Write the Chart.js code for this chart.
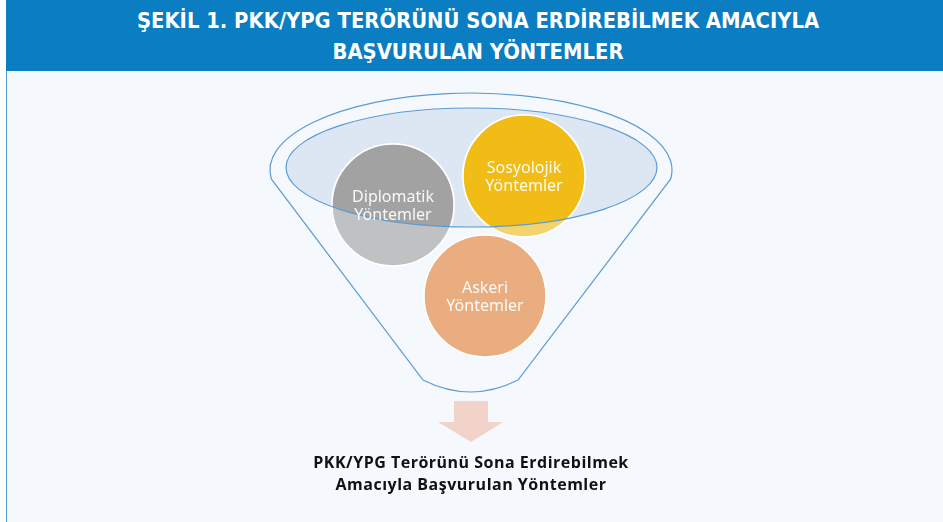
<!DOCTYPE html>
<html lang="tr">
<head>
<meta charset="utf-8">
<script src="https://cdn.jsdelivr.net/npm/chart.js@4.4.1/dist/chart.umd.min.js"></script>
<style>
  html, body { margin: 0; padding: 0; background: #fff; }
  #wrap { position: relative; width: 943px; height: 522px; overflow: hidden; }
  #panel { position: absolute; left: 6px; top: 0; width: 937px; height: 522px;
           background: #f5f8fc; border-left: 1px solid #5b9bd5; box-sizing: border-box; }
  #header { position: absolute; left: 6px; top: 0; width: 937px; height: 71px; background: #0b7dc2; }
  .title { position: absolute; left: 0; width: 956px; text-align: center; color: #fff;
           font: bold 21.8px "DejaVu Sans Condensed", "DejaVu Sans", sans-serif; white-space: nowrap; }
  .caption { position: absolute; left: 0; width: 942px; text-align: center; color: #111;
             font: bold 16px "Open Sans", Lato, sans-serif; letter-spacing: 0.5px; white-space: nowrap; }
  canvas { position: absolute; left: 0; top: 0; }
</style>
</head>
<body>
<div id="wrap">
  <div id="panel"></div>
  <div id="header"></div>
  <div class="title" style="top:8px">ŞEKİL 1. PKK/YPG TERÖRÜNÜ SONA ERDİREBİLMEK AMACIYLA</div>
  <div class="title" style="top:39px">BAŞVURULAN YÖNTEMLER</div>
  <canvas id="funnel" width="943" height="522"></canvas>
  <div class="caption" style="top:451px">PKK/YPG Terörünü Sona Erdirebilmek</div>
  <div class="caption" style="top:473px">Amacıyla Başvurulan Yöntemler</div>
</div>
<script>
const methods = [['Diplomatik', 'Yöntemler'], ['Sosyolojik', 'Yöntemler'], ['Askeri', 'Yöntemler']];
const methodX = [393, 524, 485];
const methodY = [205, 176, 296];
const methodR = [61, 61, 61];
const darkColors = ['#a2a2a2', '#f0bc15', '#eaad7f'];
const lightColors = ['#bfc1c3', '#f4d36f', '#eaad7f'];

const points = methods.map((m, i) => ({ x: methodX[i], y: methodY[i], r: methodR[i] }));

// funnel mouth (outer) and the inner ellipse, in the same units as the scales
const mouth = { x: 471, y: 170, rx: 201, ry: 77 };
const inner = { x: 471.5, y: 167.5, rx: 185.5, ry: 59.5 };
const spout = { left: 423, right: 518, y: 380, dip: 404 };

function ellipsePath(ctx, chart, e) {
  const sx = chart.scales.x, sy = chart.scales.y;
  const cx = sx.getPixelForValue(e.x), cy = sy.getPixelForValue(e.y);
  const rx = Math.abs(sx.getPixelForValue(e.x + e.rx) - cx);
  const ry = Math.abs(sy.getPixelForValue(e.y + e.ry) - cy);
  ctx.beginPath();
  ctx.ellipse(cx, cy, rx, ry, 0, 0, Math.PI * 2);
}

const funnelPlugin = {
  id: 'funnel',
  beforeDatasetsDraw(chart) {
    const ctx = chart.ctx, sx = chart.scales.x, sy = chart.scales.y;
    const cx = sx.getPixelForValue(mouth.x), cy = sy.getPixelForValue(mouth.y);
    const rx = sx.getPixelForValue(mouth.x + mouth.rx) - cx;
    const ry = Math.abs(sy.getPixelForValue(mouth.y + mouth.ry) - cy);
    ctx.save();
    ctx.beginPath();
    ctx.ellipse(cx, cy, rx, ry, 0, Math.PI - 0.12, Math.PI * 2 + 0.12);
    ctx.lineTo(sx.getPixelForValue(spout.right), sy.getPixelForValue(spout.y));
    ctx.quadraticCurveTo(sx.getPixelForValue((spout.left + spout.right) / 2), sy.getPixelForValue(spout.dip),
      sx.getPixelForValue(spout.left), sy.getPixelForValue(spout.y));
    ctx.closePath();
    ctx.strokeStyle = '#5b9bd5';
    ctx.lineWidth = 1.2;
    ctx.stroke();

    ellipsePath(ctx, chart, inner);
    ctx.fillStyle = '#dde7f3';
    ctx.fill();
    ctx.restore();
  },
  beforeDatasetDraw(chart, args) {
    if (args.index === 0) {
      chart.ctx.save();
      ellipsePath(chart.ctx, chart, inner);
      chart.ctx.clip();
    }
  },
  afterDatasetDraw(chart, args) {
    if (args.index === 0) chart.ctx.restore();
  },
  afterDatasetsDraw(chart) {
    const ctx = chart.ctx, sx = chart.scales.x, sy = chart.scales.y;
    ctx.save();
    ellipsePath(ctx, chart, inner);
    ctx.strokeStyle = '#5b9bd5';
    ctx.lineWidth = 1.2;
    ctx.stroke();

    // labels inside the circles
    ctx.fillStyle = 'rgba(255,255,255,0.92)';
    ctx.font = '16px "Noto Sans", "Open Sans", sans-serif';
    ctx.textAlign = 'center';
    ctx.textBaseline = 'middle';
    methods.forEach((lines, i) => {
      const px = sx.getPixelForValue(methodX[i]);
      const py = sy.getPixelForValue(methodY[i]);
      lines.forEach((t, j) => ctx.fillText(t, px, py - 8 + j * 18));
    });

    // arrow below the funnel
    const arrow = [[454, 401], [488, 401], [488, 422], [503, 422], [471, 442], [438, 422], [454, 422]];
    ctx.beginPath();
    arrow.forEach(([x, y], k) => {
      const X = sx.getPixelForValue(x), Y = sy.getPixelForValue(y);
      k ? ctx.lineTo(X, Y) : ctx.moveTo(X, Y);
    });
    ctx.closePath();
    ctx.fillStyle = '#f2d3c9';
    ctx.fill();
    ctx.restore();
  }
};

new Chart(document.getElementById('funnel'), {
  type: 'bubble',
  data: {
    datasets: [
      { label: 'inside', data: points, backgroundColor: darkColors, borderColor: '#ffffff', borderWidth: 1.5 },
      { label: 'outside', data: points, backgroundColor: lightColors, borderColor: '#ffffff', borderWidth: 1.5 }
    ]
  },
  options: {
    responsive: false,
    animation: false,
    layout: { padding: 0, autoPadding: false },
    plugins: { legend: { display: false }, tooltip: { enabled: false } },
    scales: {
      x: { type: 'linear', min: 0, max: 943, display: false },
      y: { type: 'linear', min: 0, max: 522, reverse: true, display: false }
    }
  },
  plugins: [funnelPlugin]
});
</script>
</body>
</html>
